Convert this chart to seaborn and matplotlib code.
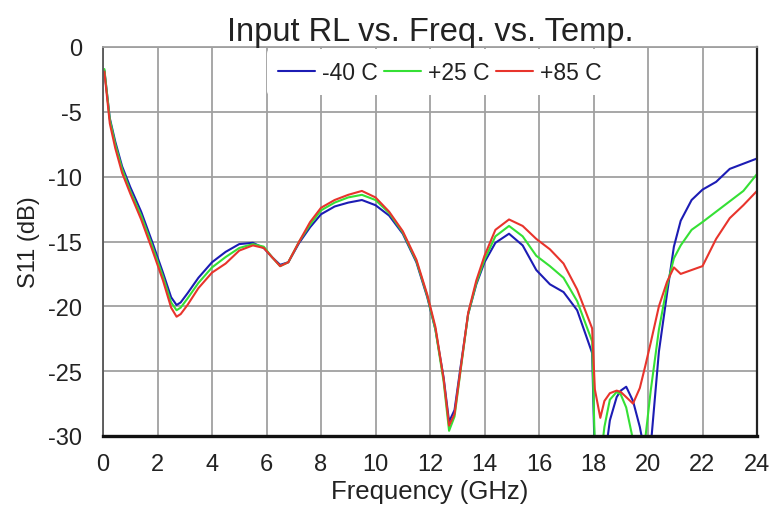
import matplotlib
matplotlib.use("Agg")
import matplotlib.pyplot as plt
import seaborn as sns
import pandas as pd
import numpy as np

freq = [0.05, 0.25, 0.45, 0.7, 1.0, 1.4, 1.8, 2.2, 2.5, 2.7, 2.85, 3.1, 3.5, 4.0, 4.5,
        5.0, 5.5, 5.9, 6.2, 6.5, 6.8, 7.2, 7.6, 8.0, 8.5, 9.0, 9.5, 10.0, 10.5,
        11.0, 11.5, 11.9, 12.2, 12.5, 12.7, 12.9, 13.1, 13.4, 13.7, 14.0, 14.4,
        14.9, 15.4, 15.9, 16.4, 16.9, 17.4, 17.95, 18.05, 18.25, 18.4, 18.6,
        18.85, 19.0, 19.2, 19.45, 19.7, 19.9, 20.1, 20.4, 20.7, 20.95, 21.2,
        21.6, 22.0, 22.5, 23.0, 23.5, 24.0]

s11_m40 = [-1.8, -5.5, -7.3, -9.2, -10.8, -12.7, -15.0, -17.4, -19.3, -19.9, -19.7, -19.0,
           -17.8, -16.6, -15.8, -15.2, -15.1, -15.5, -16.2, -16.8, -16.6, -15.1,
           -13.9, -12.9, -12.3, -12.0, -11.8, -12.2, -13.0, -14.4, -16.6, -19.3,
           -21.8, -25.5, -28.9, -28.0, -25.0, -20.6, -18.3, -16.6, -15.1, -14.4,
           -15.3, -17.2, -18.3, -18.9, -20.3, -23.6, -32.0, -33.0, -32.0, -28.8,
           -27.0, -26.5, -26.2, -27.3, -29.3, -31.5, -30.8, -23.5, -19.0, -15.4,
           -13.4, -11.8, -11.0, -10.4, -9.4, -9.0, -8.6]

s11_p25 = [-1.7, -5.6, -7.5, -9.4, -11.1, -13.0, -15.3, -17.7, -19.7, -20.3, -20.1, -19.4,
           -18.2, -17.0, -16.2, -15.5, -15.2, -15.4, -16.2, -16.9, -16.6, -15.0,
           -13.7, -12.6, -12.0, -11.6, -11.4, -11.8, -12.8, -14.3, -16.5, -19.2,
           -21.8, -25.8, -29.6, -28.5, -25.3, -20.6, -18.2, -16.4, -14.6, -13.8,
           -14.6, -16.1, -16.9, -17.8, -19.6, -22.7, -31.0, -32.0, -29.3, -27.2,
           -26.6, -26.8, -27.8, -30.3, -32.0, -30.2, -26.5, -21.8, -18.4, -16.3,
           -15.3, -14.1, -13.5, -12.7, -11.9, -11.1, -9.8]

s11_p85 = [-1.9, -5.9, -7.8, -9.7, -11.3, -13.3, -15.6, -18.0, -20.1, -20.8, -20.6, -19.9,
           -18.6, -17.4, -16.7, -15.7, -15.3, -15.5, -16.2, -16.9, -16.6, -15.0,
           -13.5, -12.4, -11.8, -11.4, -11.1, -11.6, -12.7, -14.2, -16.4, -19.1,
           -21.6, -25.6, -29.2, -28.3, -25.2, -20.5, -18.0, -16.1, -14.1, -13.3,
           -13.8, -14.8, -15.6, -16.7, -18.7, -21.7, -26.4, -28.6, -27.3, -26.7,
           -26.5, -26.6, -27.0, -27.5, -26.3, -24.6, -22.8, -20.0, -18.1, -17.0,
           -17.5, -17.2, -16.9, -14.8, -13.2, -12.2, -11.1]

series_names = ["-40 C", "+25 C", "+85 C"]
series_colors = ["#1c1cb4", "#35e035", "#e8342c"]
x_ticks = list(range(0, 25, 2))
y_ticks = list(range(-30, 1, 5))

df = pd.concat([
    pd.DataFrame({"Frequency (GHz)": freq, "S11 (dB)": vals, "Temp": name})
    for name, vals in zip(series_names, [s11_m40, s11_p25, s11_p85])
], ignore_index=True)

sns.set_theme(style="whitegrid")
plt.rcParams["font.family"] = ["Liberation Sans", "DejaVu Sans"]
plt.rcParams["axes.unicode_minus"] = False

fig = plt.figure(figsize=(7.72, 5.10), dpi=100)
ax = fig.add_axes([103 / 772, 1 - 437 / 510, (757 - 103) / 772, (437 - 48) / 510])

sns.lineplot(data=df, x="Frequency (GHz)", y="S11 (dB)", hue="Temp",
             hue_order=series_names, palette=series_colors, linewidth=1.5,
             ax=ax, estimator=None, sort=False)

ax.set_xlim(0, 24)
ax.set_ylim(-30, 0)
ax.set_xticks(x_ticks)
ax.set_yticks(y_ticks)
ax.grid(True, color="#a0a0a0", linewidth=1.3)
ax.set_axisbelow(True)
ax.set_facecolor("white")

for side, sp in ax.spines.items():
    sp.set_visible(True)
ax.spines["left"].set_color("#555555")
ax.spines["left"].set_linewidth(1.3)
ax.spines["top"].set_color("#a0a0a0")
ax.spines["top"].set_linewidth(1.3)
ax.spines["right"].set_color("#222222")
ax.spines["right"].set_linewidth(1.6)
ax.spines["bottom"].set_color("#111111")
ax.spines["bottom"].set_linewidth(2.4)

ax.tick_params(axis="both", labelsize=17, colors="#222222", length=3,
               width=1.0, direction="out")
ax.tick_params(axis="y", pad=12)
ax.tick_params(axis="x", pad=9)
ax.tick_params(axis="both", color="#555555")

ax.set_xlabel("Frequency (GHz)", fontsize=18.5, color="#222222", labelpad=3)
ax.set_ylabel("S11 (dB)", fontsize=17, color="#222222", labelpad=6)
ax.set_title("Input RL vs. Freq. vs. Temp.", fontsize=23.5, color="#222222", pad=5)

leg = ax.legend(ncol=3, loc="upper center", bbox_to_anchor=(0.515, 1.0),
                frameon=True, facecolor="white", edgecolor="none", framealpha=1.0,
                fontsize=16.5, handlelength=1.6, handletextpad=0.3,
                columnspacing=0.3, borderpad=0.5, borderaxespad=0.1)
for line in leg.get_lines():
    line.set_linewidth(1.5)
for t in leg.get_texts():
    t.set_color("#222222")

fig.savefig("out.png", dpi=100, facecolor="white")
